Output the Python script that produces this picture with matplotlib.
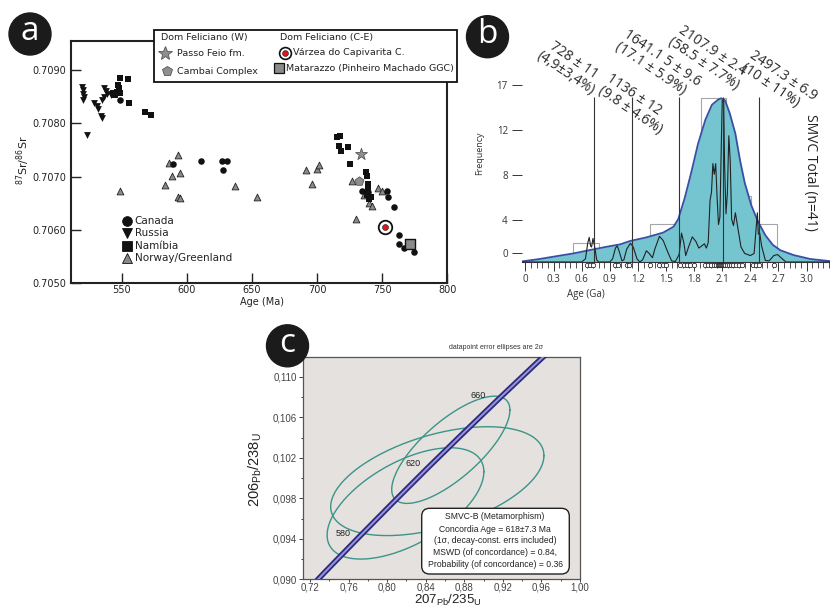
import numpy as np
import matplotlib.pyplot as plt
from matplotlib.patches import Rectangle, Circle, FancyBboxPatch

W, H = 830, 608

# ---------------- (a) 87Sr/86Sr against age ----------------
canada_age = [548.5, 589.6, 611.2, 627.4, 631.2, 627.9, 734.6, 739.5, 753.9,
              754.6, 759.0, 762.8, 762.6, 766.7, 774.6]
canada_sr = [0.70843, 0.70723, 0.70729, 0.70729, 0.70729, 0.70713, 0.70673,
             0.70672, 0.70674, 0.70661, 0.70644, 0.70590, 0.70573, 0.70567,
             0.70558]
russia_age = [520.0, 520.8, 520.5, 521.3, 520.5, 523.5, 528.8, 530.8, 532.0,
              534.0, 535.2, 536.5, 537.8, 538.6, 536.5, 535.2, 541.6]
russia_sr = [0.70869, 0.70863, 0.70855, 0.70849, 0.70843, 0.70778, 0.70839,
             0.70833, 0.70827, 0.70813, 0.70810, 0.70867, 0.70861, 0.70855,
             0.70850, 0.70844, 0.70853]
namibia_age = [548.5, 554.8, 547.5, 548.0, 546.7, 545.0, 549.0, 543.7, 555.8,
               568.0, 572.6, 715.7, 718.0, 717.2, 718.5, 723.6, 725.4, 737.7,
               738.5, 739.5, 739.0, 739.5, 738.5, 740.2, 741.5]
namibia_sr = [0.70885, 0.70883, 0.70872, 0.70866, 0.70859, 0.70853, 0.70856,
              0.70856, 0.70838, 0.70821, 0.70815, 0.70774, 0.70777, 0.70758,
              0.70749, 0.70755, 0.70723, 0.70709, 0.70702, 0.70687, 0.70678,
              0.70671, 0.70665, 0.70659, 0.70661]
norway_age = [548.8, 593.0, 586.6, 588.6, 595.0, 583.7, 593.0, 594.8, 637.1,
              653.8, 691.5, 700.0, 701.2, 696.2, 726.7, 746.7, 749.8, 736.4,
              740.2, 742.3, 729.9]
norway_sr = [0.70674, 0.70740, 0.70725, 0.70701, 0.70707, 0.70685, 0.70662,
             0.70660, 0.70682, 0.70662, 0.70712, 0.70715, 0.70721, 0.70686,
             0.70691, 0.70678, 0.70673, 0.70665, 0.70650, 0.70645, 0.70621]
passo_feio = (733.8, 0.70743)
cambai = (732.0, 0.70692)
varzea = (752.5, 0.70605)
matarazzo = (771.2, 0.70573)

a_xticks = [550, 600, 650, 700, 750, 800]
a_yticks = [0.7050, 0.7060, 0.7070, 0.7080, 0.7090]
a_ylabels = ['0.7050', '0.7060', '0.7070', '0.7080', '0.7090']

# ---------------- (b) detrital zircon ages ----------------
env_age = [-0.04, 0.15, 0.30, 0.51, 0.69, 0.87, 1.01, 1.115, 1.29, 1.47, 1.58,
           1.63, 1.70, 1.77, 1.84, 1.92, 1.99, 2.06, 2.09, 2.13, 2.18, 2.24,
           2.29, 2.34, 2.41, 2.48, 2.56, 2.64, 2.72, 2.86, 3.04, 3.25]
env_freq = [0.05, 0.28, 0.5, 0.8, 1.12, 1.43, 1.65, 1.96, 2.3, 2.75, 3.3,
            4.0, 6.0, 8.4, 11.0, 13.3, 14.7, 15.2, 15.3, 15.1, 13.9, 12.0,
            9.5, 7.4, 5.3, 3.8, 2.5, 1.6, 1.1, 0.65, 0.28, 0.08]

pdp_age = [-0.04, 0.60, 0.64, 0.665, 0.68, 0.695, 0.705, 0.72, 0.735, 0.76,
           0.78, 0.90, 0.93, 0.96, 0.98, 1.00, 1.03, 1.05, 1.08, 1.12, 1.15,
           1.19, 1.22, 1.25, 1.29, 1.32, 1.355, 1.38, 1.43, 1.47, 1.52, 1.56,
           1.60, 1.64, 1.665, 1.69, 1.71, 1.74, 1.78, 1.82, 1.85, 1.88, 1.91,
           1.93, 1.95, 1.97, 1.985, 2.00, 2.015, 2.03, 2.045, 2.06, 2.075,
           2.09, 2.10, 2.115, 2.125, 2.14, 2.155, 2.17, 2.185, 2.20, 2.22,
           2.24, 2.27, 2.30, 2.34, 2.40, 2.44, 2.46, 2.475, 2.485, 2.50, 2.52,
           2.56, 2.60, 2.65, 2.69, 2.74, 2.78, 3.25]
pdp_freq = [0, 0, 0.3, 1.8, 2.3, 1.5, 1.4, 2.2, 1.6, 0.2,
            0, 0, 0.3, 1.3, 1.5, 1.0, 0.1, 0.2, 1.2, 1.75, 1.4,
            0.3, 0, 0.2, 1.05, 0.8, 0.4, 1.2, 2.4, 2.0, 0.9, 0.1,
            0.05, 0.7, 2.7, 1.8, 0.6, 1.4, 2.35, 1.9, 1.3, 1.5, 1.7,
            1.3, 1.8, 5.8, 6.5, 9.2, 8.2, 9.2, 6.0, 3.5, 4.2,
            11.0, 15.1, 15.0, 9.0, 4.5, 6.5, 11.8, 9.5, 4.0, 3.4,
            4.6, 3.0, 1.4, 0.8, 0.6, 0.8, 3.0, 4.6, 2.6, 2.7, 1.5,
            0.15, 0.1, 0.6, 0.7, 0.3, 0, 0]

bin_edges = [0.51, 0.785, 1.06, 1.33, 1.60, 1.87, 2.14, 2.41, 2.685]
bin_counts = [1.75, 0, 0, 3.55, 3.55, 15.3, 6.2, 3.55]

grain_ages = [0.66, 0.69, 0.72, 0.96, 0.99, 1.08, 1.11, 1.33, 1.43, 1.47, 1.50,
              1.65, 1.69, 1.72, 1.76, 1.80, 1.92, 1.95, 1.98, 2.01, 2.03, 2.05,
              2.06, 2.07, 2.08, 2.09, 2.10, 2.11, 2.12, 2.13, 2.15, 2.17, 2.19,
              2.22, 2.25, 2.28, 2.31, 2.43, 2.46, 2.49, 2.65]

peak_ages = [0.728, 1.136, 1.641, 2.108, 2.497]
peak_texts = ['728 ± 11\n(4,9±3,4%)', '1136 ± 12\n(9.8 ± 4.6%)',
              '1641.1 5 ± 9.6\n(17.1 ± 5.9%)', '2107.9 ± 2.4\n(58.5 ± 7.7%)',
              '2497.3 ± 6.9\n(10 ± 11%)']
peak_text_xy = [(569.6, 67.1), (634.2, 104.2), (657.5, 64.2), (707.9, 57.5),
                (778.8, 81.7)]
peak_align = ['center', 'left', 'left', 'center', 'left']

b_xticks = [0, 0.3, 0.6, 0.9, 1.2, 1.5, 1.8, 2.1, 2.4, 2.7, 3.0]
b_xlabels = ['0', '0.3', '0.6', '0.9', '1.2', '1.5', '1.8', '2.1', '2.4',
             '2.7', '3.0']
freq_tick_pos = [0.8, 3.9, 8.1, 12.3, 16.5]
freq_tick_labels = ['0', '4', '8', '12', '17']

# ---------------- (c) concordia ----------------
conc_age = [550, 560, 580, 600, 620, 640, 660, 680, 690]
conc_x = [0.7189, 0.7359, 0.7704, 0.8056, 0.8415, 0.8782, 0.9155, 0.9536, 0.9730]
conc_y = [0.08906, 0.09076, 0.09414, 0.09754, 0.10096, 0.10438, 0.10781,
          0.11125, 0.11298]
conc_labels = ['580', '620', '660']
conc_label_xy = [(0.7545, 0.09454), (0.8271, 0.10146), (0.8942, 0.10820)]

ell_cx = [0.866, 0.852, 0.819]
ell_cy = [0.1028, 0.0997, 0.0975]
ell_sx = [0.0613, 0.1106, 0.0813]
ell_sy = [0.0053, 0.00538, 0.0055]
ell_rho = [0.74, 0.47, 0.57]

c_xticks = [0.72, 0.76, 0.80, 0.84, 0.88, 0.92, 0.96, 1.00]
c_xlabels = ['0,72', '0,76', '0,80', '0,84', '0,88', '0,92', '0,96', '1,00']
c_yticks = [0.090, 0.094, 0.098, 0.102, 0.106, 0.110]
c_ylabels = ['0,090', '0,094', '0,098', '0,102', '0,106', '0,110']
c_box_lines = ['SMVC-B (Metamorphism)', 'Concordia Age = 618±7.3 Ma',
               '(1σ, decay-const. errs included)', 'MSWD (of concordance) = 0.84,',
               'Probability (of concordance) = 0.36']


def box(l, t, r, b):
    return [l / W, 1 - b / H, (r - l) / W, (b - t) / H]


fig = plt.figure(figsize=(W / 100, H / 100), dpi=100)

# ---------- panel a ----------
ax_a = fig.add_axes(box(70.7, 40.7, 447.3, 283.3))
ax_a.scatter(norway_age, norway_sr, marker='^', s=24, c='#8a8a8a',
             edgecolors='#222', linewidths=0.6, zorder=3)
ax_a.scatter(canada_age, canada_sr, marker='o', s=22, c='#111', lw=0, zorder=4)
ax_a.scatter(russia_age, russia_sr, marker='v', s=24, c='#111', lw=0, zorder=4)
ax_a.scatter(namibia_age, namibia_sr, marker='s', s=13, c='#111', lw=0, zorder=4)
ax_a.scatter(*passo_feio, marker='*', s=80, c='#8f8f8f', edgecolors='#555',
             linewidths=0.6, zorder=5)
ax_a.scatter(*cambai, marker='p', s=45, c='#8f8f8f', edgecolors='#555',
             linewidths=0.6, zorder=5)
ax_a.scatter(*varzea, marker='o', s=95, c='white', edgecolors='#111',
             linewidths=1.3, zorder=5)
ax_a.scatter(*varzea, marker='o', s=18, c='#e8141b', edgecolors='#111',
             linewidths=0.4, zorder=6)
ax_a.scatter(*matarazzo, marker='s', s=55, c='#8a8a8a', edgecolors='#111',
             linewidths=1.0, zorder=5)
ax_a.set_xlim(511, 800)
ax_a.set_ylim(0.7050, 0.70955)
ax_a.set_xticks(a_xticks)
ax_a.set_yticks(a_yticks)
ax_a.set_yticklabels(a_ylabels)
ax_a.tick_params(direction='in', length=7.5, width=1.0, labelsize=7,
                 colors='#222', pad=3)
ax_a.tick_params(axis='x', pad=1.5)
for sp in ax_a.spines.values():
    sp.set_linewidth(1.5)
    sp.set_color('#222')

# ---------- panel b ----------
ax_b = fig.add_axes(box(521.75, 40, 830, 262))
ax_b.patch.set_visible(False)
edges = np.array(bin_edges)
counts = np.array(bin_counts)
keep = counts > 0
ax_b.bar(edges[:-1][keep], counts[keep], width=np.diff(edges)[keep],
         align='edge', fill=False, edgecolor='#a6a6a6', lw=0.8, zorder=1)
ax_b.fill_between(env_age, env_freq, 0, color='#74c5cf', lw=0, zorder=2)
ax_b.plot(env_age, env_freq, color='#3a4ea6', lw=1.3, zorder=3)
ax_b.plot(pdp_age, pdp_freq, color='#222', lw=0.8, zorder=4)
ax_b.vlines(peak_ages, 0, 15.4, color='#333', lw=0.8, zorder=5)
ax_b.plot(grain_ages, [-0.3] * len(grain_ages), 'o', ms=3.2, mfc='white',
          mec='#111', mew=0.5, clip_on=False, zorder=6)
ax_b.set_xlim(-0.04, 3.25)
ax_b.set_ylim(0, 20.75)
ax_b.set_xticks(b_xticks)
ax_b.set_xticklabels(b_xlabels, family='Open Sans')
ax_b.set_xticks(np.arange(0, 3.25, 0.06), minor=True)
ax_b.set_yticks(freq_tick_pos)
ax_b.set_yticklabels(freq_tick_labels, family='Open Sans')
ax_b.tick_params(axis='x', which='major', direction='out', length=6.5,
                 width=0.7, labelsize=7, colors='#333', pad=2)
ax_b.tick_params(axis='x', which='minor', direction='out', length=4,
                 width=0.6, colors='#333')
ax_b.tick_params(axis='y', direction='out', length=7, width=0.7, labelsize=7,
                 colors='#333', pad=3)
for k in ('top', 'right', 'left'):
    ax_b.spines[k].set_visible(False)
ax_b.spines['bottom'].set_linewidth(0.8)
ax_b.spines['bottom'].set_color('#333')

# ---------- panel c ----------
ax_c = fig.add_axes(box(303.3, 356.7, 580, 579.3), facecolor='#e5e1df')
t = np.linspace(0, 2 * np.pi, 240)
for cx, cy, sx, sy, r in zip(ell_cx, ell_cy, ell_sx, ell_sy, ell_rho):
    ex = cx + sx * np.cos(t)
    ey = cy + sy * (r * np.cos(t) + np.sqrt(1 - r * r) * np.sin(t))
    ax_c.plot(ex, ey, color='#3a9488', lw=1.0, zorder=2)
ax_c.plot(conc_x, conc_y, color='#2b2a7e', lw=4.0, zorder=3,
          solid_capstyle='butt')
ax_c.plot(conc_x, conc_y, color='#9a95d8', lw=1.4, zorder=4)
for lab, (lx, ly) in zip(conc_labels, conc_label_xy):
    ax_c.text(lx, ly, lab, fontsize=6.5, ha='center', va='center',
              color='#222', family='Liberation Sans', zorder=5)
ax_c.set_xlim(0.713, 1.0)
ax_c.set_ylim(0.090, 0.11197)
ax_c.set_xticks(c_xticks)
ax_c.set_xticklabels(c_xlabels, family='Liberation Sans')
ax_c.set_yticks(c_yticks)
ax_c.set_yticklabels(c_ylabels, family='Liberation Sans')
ax_c.set_xticks(np.arange(0.74, 1.0, 0.04), minor=True)
ax_c.set_yticks(np.arange(0.092, 0.112, 0.004), minor=True)
ax_c.tick_params(which='both', direction='out', length=3, width=0.7,
                 labelsize=7, colors='#444', pad=1.5)
ax_c.tick_params(axis='x', length=2, pad=0.5)
ax_c.tick_params(which='minor', length=1.5)
for sp in ax_c.spines.values():
    sp.set_linewidth(0.9)
    sp.set_color('#555')

# ---------- overlay for labels and legends (pixel units) ----------
ov = fig.add_axes([0, 0, 1, 1])
ov.set_xlim(0, W)
ov.set_ylim(0, H)
ov.axis('off')


def Y(py):
    return H - py


# panel tags
for lab, (cx, cy) in zip(['a', 'b', 'c'], [(30, 34), (487.5, 36.7), (287.5, 345.8)]):
    ov.add_patch(Circle((cx, Y(cy)), 21, color='#1b1b1b', zorder=1))
    ov.text(cx, Y(cy) + 2, lab, color='white', fontsize=24, ha='center',
            va='center', family='Open Sans', zorder=2)

# panel a labels
ov.text(23, Y(160), '$^{87}$Sr/$^{86}$Sr', rotation=90, fontsize=8,
        ha='center', va='center', color='#222')
ov.text(262, Y(302), 'Age (Ma)', fontsize=7, ha='center', va='center',
        color='#222')

# panel a, top legend box
ov.add_patch(Rectangle((153.5, Y(82)), 303.2, 52, facecolor='white',
                       edgecolor='#111', lw=1.3, zorder=1))
leg_kw = dict(fontsize=6.8, va='center', ha='left', color='#222', zorder=3)
ov.text(160.7, Y(37.7), 'Dom Feliciano (W)', **leg_kw)
ov.text(177.3, Y(53.3), 'Passo Feio fm.', **leg_kw)
ov.text(177.3, Y(71), 'Cambai Complex', **leg_kw)
ov.text(280, Y(37.7), 'Dom Feliciano (C-E)', **leg_kw)
ov.text(293.3, Y(52.7), 'Várzea do Capivarita C.', **leg_kw)
ov.text(286.2, Y(69), 'Matarazzo (Pinheiro Machado GGC)', **leg_kw)
ov.plot(165, Y(53.3), marker='*', ms=10, mfc='#8f8f8f', mec='#555', mew=0.6,
        zorder=3)
ov.plot(166.7, Y(70.7), marker='p', ms=7.5, mfc='#8f8f8f', mec='#555',
        mew=0.6, zorder=3)
ov.plot(285, Y(52.7), marker='o', ms=8.5, mfc='white', mec='#111', mew=1.2,
        zorder=3)
ov.plot(285, Y(52.7), marker='o', ms=4.2, mfc='#e8141b', mec='#111', mew=0.4,
        zorder=4)
ov.plot(279.3, Y(68.3), marker='s', ms=6.5, mfc='#8a8a8a', mec='#111',
        mew=0.9, zorder=3)

# panel a, inner legend
inner = [('Canada', 'o', '#111'), ('Russia', 'v', '#111'),
         ('Namíbia', 's', '#111'), ('Norway/Greenland', '^', '#8a8a8a')]
for (lab, mk, col), py in zip(inner, [221.2, 232.9, 245.6, 258.0]):
    ov.plot(126.5, Y(py), marker=mk, ms=7, mfc=col, mec='#111', mew=0.6,
            zorder=3)
    ov.text(134.5, Y(py), lab, fontsize=7.5, va='center', ha='left',
            color='#222')

# panel b labels
for txt, (tx, ty), al in zip(peak_texts, peak_text_xy, peak_align):
    ov.text(tx, Y(ty), txt, rotation=-34, rotation_mode='anchor',
            ha='center', va='center', multialignment=al, fontsize=10,
            linespacing=1.0, color='#2a2a2a', family='Open Sans')
ov.text(810, Y(172.5), 'SMVC Total (n=41)', rotation=-90, fontsize=10,
        ha='center', va='center', color='#222', family='Open Sans')
ov.text(480, Y(153), 'Frequency', rotation=90, fontsize=6.5, ha='center',
        va='center', color='#333', family='Open Sans')
ov.text(586, Y(294), 'Age (Ga)', fontsize=7, ha='center', va='center',
        color='#333', family='Open Sans')

# panel c labels
ov.text(496, Y(347.7), 'datapoint error ellipses are 2σ', fontsize=5,
        ha='center', va='center', color='#333', family='Liberation Sans')
ov.text(255, Y(470), '$\\mathregular{206_{Pb}/238_{U}}$', rotation=90,
        fontsize=10.5, ha='center', va='center', color='#222',
        family='Liberation Sans')
ov.text(448, Y(608.5), '$\\mathregular{207_{Pb}/235_{U}}$', fontsize=9.5,
        ha='center', va='bottom', color='#222', family='Liberation Sans')
ov.add_patch(FancyBboxPatch((429.7, Y(566)), 131.6, 49.7,
                            boxstyle='round,pad=8', facecolor='white',
                            edgecolor='#222', lw=1.0, zorder=1))
for line, py in zip(c_box_lines, [516.7, 529.3, 540.7, 552.3, 564.3]):
    ov.text(495, Y(py), line, fontsize=6.2, ha='center', va='center',
            color='#222', family='Liberation Sans', zorder=2)

fig.savefig('out.png', dpi=100)
